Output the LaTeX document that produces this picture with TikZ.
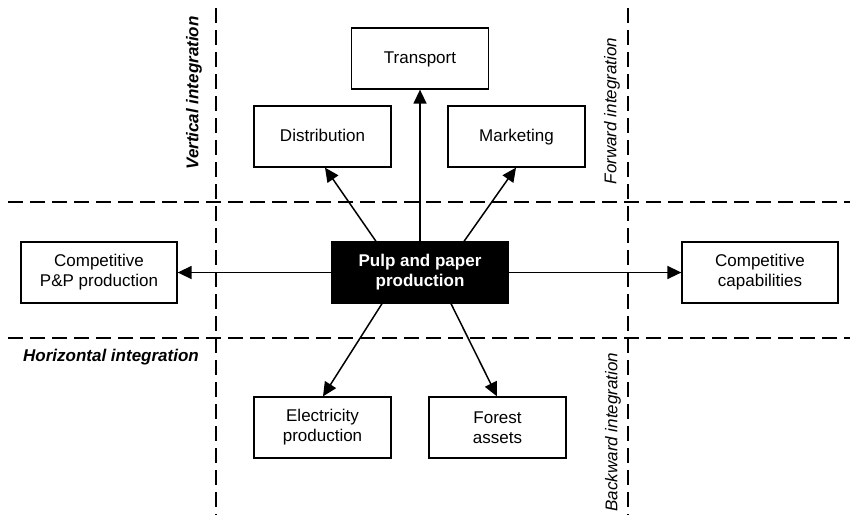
\documentclass[tikz,border=0pt]{standalone}
\usepackage{fontspec}
\setmainfont{Liberation Sans}
\usetikzlibrary{arrows.meta}
\begin{document}
\begin{tikzpicture}[x=1pt,y=-1pt,
  every node/.style={font=\fontsize{17}{20}\selectfont},
  box/.style={draw, line width=1.3pt, rectangle, minimum width=137pt, minimum height=61pt, inner sep=0pt, align=center, fill=white},
  onebox/.style={box, text height=12.5pt, text depth=3.5pt},
  widebox/.style={box, minimum width=156pt},
  corebox/.style={box, minimum width=176pt, fill=black, text=white, font=\fontsize{17}{20}\selectfont\bfseries},
  divider/.style={dash pattern=on 15pt off 7pt, line width=1.1pt},
  link/.style={-{Triangle[length=14pt,width=13pt]}, line width=1.5pt},
  axislabel/.style={font=\fontsize{17}{20}\selectfont\itshape},
  axisbold/.style={font=\fontsize{17}{20}\selectfont\bfseries\itshape}]
\useasboundingbox (0,0) rectangle (850,515);

% quadrant dividers
\coordinate (vl-top) at (216,8);   \coordinate (vl-bot) at (216,515);
\coordinate (vr-top) at (628,8);   \coordinate (vr-bot) at (628,515);
\coordinate (ht-left) at (8,202);  \coordinate (ht-right) at (850,202);
\coordinate (hb-left) at (8,338);  \coordinate (hb-right) at (850,338);
\draw[divider] (vl-top) -- (vl-bot);
\draw[divider] (vr-top) -- (vr-bot);
\draw[divider] (ht-left) -- (ht-right);
\draw[divider] (hb-left) -- (hb-right);

% axis labels
\node[axisbold, rotate=90] (vert) at (194,93) {Vertical integration};
\node[axislabel, rotate=90] (fwd) at (612,111) {Forward integration};
\node[axisbold] (horiz) at (111,357) {Horizontal integration};
\node[axislabel, rotate=90] (bwd) at (613,432) {Backward integration};

% boxes
\node[corebox] (core) at (420,272.5) {Pulp and paper\\production};
\node[onebox] (transport) at (420,58.5) {Transport};
\node[onebox] (distribution) at (322.5,136.5) {Distribution};
\node[onebox] (marketing) at (516.5,136.5) {Marketing};
\node[widebox] (pp) at (99,272.5) {Competitive\\P\&P production};
\node[widebox] (capab) at (760,272.5) {Competitive\\capabilities};
\node[box] (elec) at (322.5,427.5) {Electricity\\production};
\node[box] (forest) at (497.5,427.5) {Forest\\assets};

% links from the core
\draw[link] (core.north) -- (transport.south);
\draw[link] ([xshift=-44pt]core.north) -- ([xshift=2.5pt]distribution.south);
\draw[link] ([xshift=44pt]core.north) -- ([xshift=-0.5pt]marketing.south);
\draw[link] (core.west) -- (pp.east);
\draw[link] (core.east) -- (capab.west);
\draw[link] ([xshift=-38pt]core.south) -- ([xshift=0.5pt]elec.north);
\draw[link] ([xshift=31pt]core.south) -- ([xshift=-0.5pt]forest.north);
\end{tikzpicture}
\end{document}
